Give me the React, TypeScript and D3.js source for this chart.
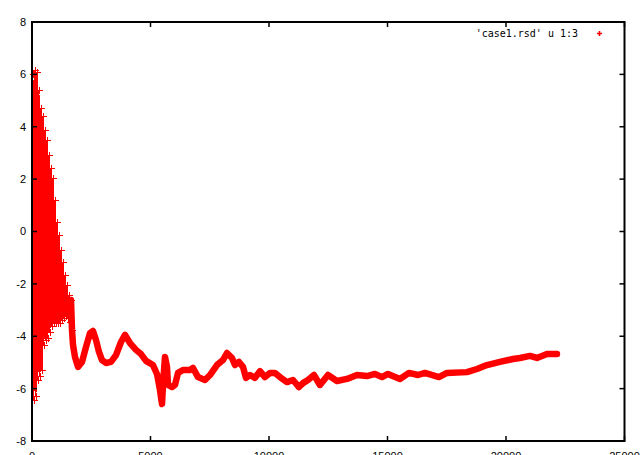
import React from 'react';
import * as d3 from 'd3';

// Axis ticks
const xTicks = [0, 5000, 10000, 15000, 20000, 25000];
const yTicks = [-8, -6, -4, -2, 0, 2, 4, 6, 8];

// Early transient: the residual swings between its extremes
const ringX = [
  42, 84, 127, 169, 211, 253, 295, 338, 380, 422, 464, 506, 548, 591, 633, 675, 717, 759, 802, 844,
  886, 928, 970, 1013, 1055, 1097, 1139, 1181, 1224, 1266, 1308, 1350, 1392, 1435, 1477, 1519, 1561, 1603, 1645, 1688,
];
const ringY = [
  6.01, -6.43, 6.17, -6.28, 6.09, -5.67, 5.4, -5.52, 4.72, -5.29, 4.41, -4.33, 3.88, -4.14, 3.49, -4.07, 2.92, -3.84, 2.42, -3.61,
  2.04, -3.49, 1.2, -3.49, 0.36, -3.49, -0.13, -3.49, -0.71, -3.38, -1.16, -3.3, -1.66, -3.23, -2.04, -3.3, -2.42, -3.46, -2.62, -3.76,
];

// Settled part of the residual
const settleX = [
  1730, 1814, 1941, 2110, 2278, 2447, 2574, 2700, 2827, 2953, 3122, 3333, 3544, 3755, 3924, 4135, 4388, 4599, 4810,
  5105, 5274, 5400, 5485, 5527, 5611, 5696, 5738, 5907, 6033, 6160, 6371, 6666, 6793, 7004, 7299, 7510, 7805, 8058,
  8227, 8438, 8565, 8733, 8902, 9029, 9197, 9408, 9619, 9830, 10041, 10252, 10463, 10758, 11012, 11265, 11433, 11644,
  11897, 12150, 12488, 12868, 13290, 13712, 14134, 14471, 14767, 15019, 15526, 15905, 16285, 16581, 17171, 17509,
  18353, 18775, 19196, 19745, 20293, 20589, 21011, 21306, 21728, 22150,
];
const settleY = [
  -4.33, -4.79, -5.17, -4.98, -4.41, -3.88, -3.8, -4.14, -4.6, -4.91, -5.02, -4.98, -4.72, -4.22, -3.95, -4.26, -4.52, -4.68, -4.94,
  -5.1, -5.44, -6.05, -6.59, -5.86, -4.79, -5.17, -5.86, -5.94, -5.86, -5.4, -5.29, -5.29, -5.21, -5.56, -5.67, -5.48, -5.1, -4.91,
  -4.64, -4.83, -5.1, -4.98, -5.17, -5.59, -5.48, -5.59, -5.33, -5.56, -5.4, -5.4, -5.56, -5.75, -5.67, -5.94, -5.79, -5.67,
  -5.48, -5.86, -5.48, -5.71, -5.63, -5.48, -5.52, -5.44, -5.56, -5.44, -5.63, -5.4, -5.48, -5.4, -5.56, -5.4,
  -5.37, -5.25, -5.1, -4.98, -4.87, -4.83, -4.75, -4.83, -4.68, -4.68,
];

const legendLabel = "'case1.rsd' u 1:3";

const W = 641;
const H = 455;
const left = 32;
const right = 624.5;
const top = 22;
const bottom = 441;
const RED = '#ff0000';

export default function App() {
  const x = d3.scaleLinear().domain([0, 25000]).range([left, right]);
  const y = d3.scaleLinear().domain([-8, 8]).range([bottom, top]);

  const ring = ringX.map((v, i) => [v, ringY[i]] as [number, number]);
  const settle = [ring[ring.length - 2], ring[ring.length - 1], ...settleX.map((v, i) => [v, settleY[i]] as [number, number])];

  const line = d3
    .line<[number, number]>()
    .x((d) => x(d[0]))
    .y((d) => y(d[1]));

  // gnuplot-style "+" point, snapped to the pixel grid
  const cross = (px: number, py: number, r: number, key: string | number, w = 1) => {
    const cx = Math.round(px) + 0.5;
    const cy = Math.round(py) + 0.5;
    return (
      <path
        key={key}
        d={`M${cx - r - 0.5},${cy}H${cx + r + 0.5}M${cx},${cy - r - 0.5}V${cy + r + 0.5}`}
        stroke={RED}
        strokeWidth={w}
        fill="none"
      />
    );
  };

  const tick = 5;

  return (
    <svg width={W} height={H} style={{ position: 'absolute', left: 0, top: 0, background: '#fff' }}>
      <rect x={0} y={0} width={W} height={H} fill="#fff" />

      {/* data */}
      <path d={line(ring) || ''} stroke={RED} strokeWidth={1} fill="none" shapeRendering="crispEdges" />
      {ring.map((d, i) => cross(x(d[0]), y(d[1]), 3, 'r' + i))}
      <path d={line(settle) || ''} stroke={RED} strokeWidth={6.5} strokeLinejoin="round" strokeLinecap="round" fill="none" />

      {/* frame */}
      <rect x={left} y={top} width={right - left} height={bottom - top} fill="none" stroke="#000" strokeWidth={2} />

      {/* ticks, mirrored on all four sides */}
      {xTicks.map((t) => (
        <g key={'xt' + t}>
          <line x1={x(t)} x2={x(t)} y1={bottom} y2={bottom - tick} stroke="#000" strokeWidth={1.5} />
          <line x1={x(t)} x2={x(t)} y1={top} y2={top + tick} stroke="#000" strokeWidth={1.5} />
          <text x={x(t)} y={460} textAnchor="middle" fontFamily="Liberation Sans, Arial, sans-serif" fontSize={11} fill="#000">
            {t}
          </text>
        </g>
      ))}
      {yTicks.map((t) => (
        <g key={'yt' + t}>
          <line x1={left} x2={left + tick} y1={y(t)} y2={y(t)} stroke="#000" strokeWidth={1.5} />
          <line x1={right} x2={right - tick} y1={y(t)} y2={y(t)} stroke="#000" strokeWidth={1.5} />
          <text x={26} y={y(t)} dy="0.36em" textAnchor="end" fontFamily="Liberation Sans, Arial, sans-serif" fontSize={11} fill="#000">
            {t}
          </text>
        </g>
      ))}

      {/* key */}
      <text x={578} y={33} dy="0.35em" textAnchor="end" fontFamily="DejaVu Sans Mono, monospace" fontSize={10} fill="#000">
        {legendLabel}
      </text>
      {cross(599, 33, 2, 'legend', 1.6)}
    </svg>
  );
}
